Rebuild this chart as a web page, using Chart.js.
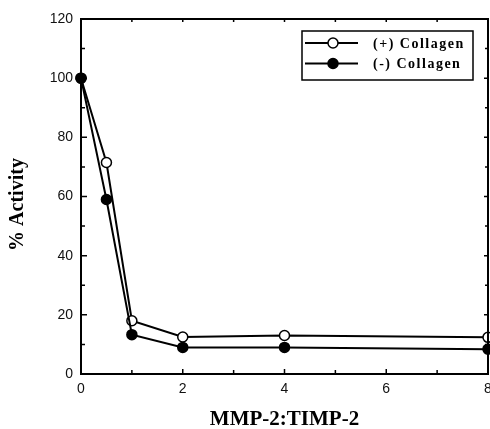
<!DOCTYPE html>
<html>
<head>
<meta charset="utf-8">
<script src="https://cdn.jsdelivr.net/npm/chart.js@4/dist/chart.umd.min.js"></script>
<style>
  html, body { margin: 0; padding: 0; background: #fff; }
  #wrap { width: 490px; height: 429px; }
</style>
</head>
<body>
<div id="wrap"><canvas id="c" width="490" height="429"></canvas></div>
<script>
// ---- data ----
const ratios = [0, 0.5, 1, 2, 4, 8];                 // MMP-2:TIMP-2
const withCollagen = [100, 71.5, 18, 12.5, 13, 12.4];   // (+) Collagen
const withoutCollagen = [100, 59, 13.3, 9, 9, 8.4];     // (-) Collagen
const seriesLabels = ['(+) Collagen', '(-) Collagen'];
const xTitle = 'MMP-2:TIMP-2';
const yTitle = '% Activity';

const toPts = (xs, ys) => xs.map((x, i) => ({ x: x, y: ys[i] }));

const serif = "'Liberation Serif', 'Times New Roman', serif";
const sans = "'Liberation Sans', Arial, sans-serif";

const frame = {
  id: 'frame',
  afterDatasetsDraw(chart) {
    const { ctx, chartArea: a, scales } = chart;
    const xs = scales.x, ys = scales.y;
    ctx.save();
    ctx.strokeStyle = '#000';
    ctx.lineWidth = 2;
    ctx.strokeRect(a.left, a.top, a.right - a.left, a.bottom - a.top);
    ctx.lineWidth = 1.5;
    ctx.beginPath();
    for (let v = ys.min + 10; v < ys.max; v += 10) {
      const p = ys.getPixelForValue(v);
      const major = v % 20 === 0;
      const L = major ? 6 : 4;
      ctx.moveTo(a.left, p); ctx.lineTo(a.left + L, p);
      ctx.moveTo(a.right, p); ctx.lineTo(a.right - (major ? 4 : 3), p);
    }
    for (let v = xs.min + 1; v < xs.max; v += 1) {
      const p = xs.getPixelForValue(v);
      const L = v % 2 === 0 ? 5 : 4;
      ctx.moveTo(p, a.bottom); ctx.lineTo(p, a.bottom - L);
      ctx.moveTo(p, a.top); ctx.lineTo(p, a.top + 3);
    }
    ctx.stroke();
    // y-axis title (rotated)
    ctx.save();
    ctx.translate(18, (a.top + a.bottom) / 2 + 8);
    ctx.rotate(-Math.PI / 2);
    ctx.fillStyle = '#000';
    ctx.font = 'bold 20px ' + serif;
    ctx.textAlign = 'center';
    ctx.textBaseline = 'middle';
    ctx.fillText(yTitle, 0, 0);
    ctx.restore();
    ctx.restore();
  }
};

const legendBox = {
  id: 'legendBox',
  afterDraw(chart) {
    const { ctx, chartArea: a } = chart;
    const w = 171, h = 49;
    const left = a.right - 186, top = a.top + 12;
    ctx.save();
    ctx.fillStyle = '#fff';
    ctx.fillRect(left, top, w, h);
    ctx.strokeStyle = '#000';
    ctx.lineWidth = 1.5;
    ctx.strokeRect(left, top, w, h);
    const order = [1, 0];
    order.forEach((di, row) => {
      const ds = chart.data.datasets[di];
      const y = top + 12 + row * 20.5;
      ctx.strokeStyle = ds.borderColor;
      ctx.lineWidth = ds.borderWidth;
      ctx.beginPath();
      ctx.moveTo(left + 3, y); ctx.lineTo(left + 56, y);
      ctx.stroke();
      ctx.beginPath();
      ctx.arc(left + 31, y, ds.pointRadius, 0, Math.PI * 2);
      ctx.fillStyle = ds.pointBackgroundColor;
      ctx.fill();
      ctx.lineWidth = ds.pointBorderWidth;
      ctx.strokeStyle = ds.pointBorderColor;
      ctx.stroke();
      ctx.fillStyle = '#000';
      ctx.font = 'bold 14px ' + serif;
      ctx.textBaseline = 'middle';
      ctx.textAlign = 'left';
      try { ctx.letterSpacing = '1.5px'; } catch (e) {}
      ctx.fillText(ds.label, left + 71, y + 1);
    });
    ctx.restore();
  }
};

new Chart(document.getElementById('c'), {
  type: 'line',
  data: {
    datasets: [
      {
        label: seriesLabels[1],
        data: toPts(ratios, withoutCollagen),
        borderColor: '#000', borderWidth: 2,
        pointRadius: 5, pointBackgroundColor: '#000',
        pointBorderColor: '#000', pointBorderWidth: 1.5,
        tension: 0, fill: false, order: 1, clip: false
      },
      {
        label: seriesLabels[0],
        data: toPts(ratios, withCollagen),
        borderColor: '#000', borderWidth: 2,
        pointRadius: 5, pointBackgroundColor: '#fff',
        pointBorderColor: '#000', pointBorderWidth: 1.5,
        tension: 0, fill: false, order: 2, clip: false
      }
    ]
  },
  options: {
    responsive: false,
    animation: false,
    devicePixelRatio: 1,
    layout: { autoPadding: false, padding: { left: 0, top: 19, right: 2, bottom: 0 } },
    plugins: { legend: { display: false }, tooltip: { enabled: false } },
    scales: {
      x: {
        type: 'linear', min: 0, max: 8,
        grid: { display: false, drawTicks: false },
        border: { display: false },
        ticks: {
          stepSize: 1, padding: 7, color: '#111', maxRotation: 0,
          font: { family: sans, size: 14 },
          callback: v => (v % 2 === 0 ? String(v) : '')
        },
        title: {
          display: true, text: xTitle, color: '#000',
          font: { family: serif, size: 21, weight: 'bold', lineHeight: 1 },
          padding: { top: 0, bottom: -1 }
        },
        afterFit(s) { s.height = 55; s.paddingLeft = 0; s.paddingRight = 0; }
      },
      y: {
        min: 0, max: 120,
        grid: { display: false, drawTicks: false },
        border: { display: false },
        ticks: {
          stepSize: 20, padding: 8, color: '#111',
          font: { family: sans, size: 14 }
        },
        title: { display: false, text: yTitle },
        afterFit(s) { s.width = 81; s.paddingTop = 0; s.paddingBottom = 0; }
      }
    }
  },
  plugins: [frame, legendBox]
});
</script>
</body>
</html>
